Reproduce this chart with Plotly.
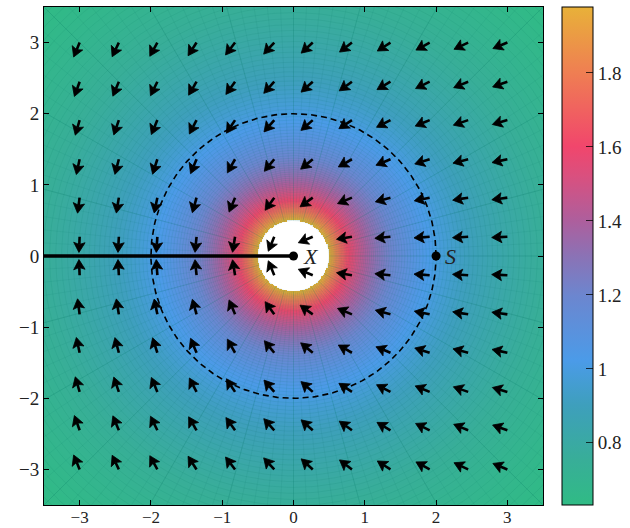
import numpy as np
import plotly.graph_objects as go

# ---- data ----
axis_ticks = [-3, -2, -1, 0, 1, 2, 3]
cbar_ticks = [0.8, 1.0, 1.2, 1.4, 1.6, 1.8]
cbar_labels = ["0.8", "1", "1.2", "1.4", "1.6", "1.8"]
cbar_min, cbar_max = 0.632, 1.978
arrow_x = [-3.0, -2.45, -1.91, -1.36, -0.82, -0.27, 0.27, 0.82, 1.36, 1.91, 2.45, 3.0]
arrow_y = [-3.0, -2.45, -1.91, -1.36, -0.82, -0.27, 0.27, 0.82, 1.36, 1.91, 2.45, 3.0]
hole_radius = 0.5
circle_radius = 2.0
point_X = (0.0, 0.0)
point_S = (2.0, 0.0)
value_at_r2 = 1.0      # colour level on the dashed circle
decay_power = 0.5      # level ~ r^-1/2

colorscale = [
    [0.00, "#30bb85"], [0.09, "#38ae98"], [0.20, "#3e9fbc"], [0.29, "#4b9be8"],
    [0.42, "#6c86cf"], [0.50, "#8b72b5"], [0.57, "#ad5f9d"], [0.66, "#d9507f"],
    [0.72, "#f1466c"], [0.87, "#ef7f52"], [1.00, "#e8b139"],
]

FONT = "Liberation Serif"

# ---- field ----
N = 401
gx = np.linspace(-3.5, 3.5, N)
gy = np.linspace(-3.5, 3.5, N)
XX, YY = np.meshgrid(gx, gy)
R = np.hypot(XX, YY)
Z = value_at_r2 * (R / circle_radius) ** (-decay_power)
Z[R < hole_radius] = np.nan

fig = go.Figure()
fig.add_trace(go.Heatmap(
    x=gx, y=gy, z=Z, zmin=cbar_min, zmax=cbar_max, colorscale=colorscale,
    hoverinfo="skip",
    colorbar=dict(
        x=1.038, xanchor="left", y=0.5, yanchor="middle", len=1.0, lenmode="fraction",
        thickness=31, xpad=0, ypad=0, outlinewidth=1, outlinecolor="black",
        tickvals=cbar_ticks, ticktext=cbar_labels,
        ticks="inside", ticklen=7, tickcolor="rgba(0,0,0,0.75)", tickwidth=1,
        tickfont=dict(family=FONT, size=19, color="#222"),
    ),
))

# ---- faint polar mesh (rings and spokes) ----
rings = np.exp(np.linspace(np.log(hole_radius), np.log(5.0), 92))
t = np.linspace(0, 2 * np.pi, 241)
mx, my = [], []
for rr in rings:
    mx += list(rr * np.cos(t)) + [None]
    my += list(rr * np.sin(t)) + [None]
fig.add_trace(go.Scatter(x=mx, y=my, mode="lines", hoverinfo="skip",
                         line=dict(color="rgba(0,110,95,0.14)", width=0.7), showlegend=False))
sx, sy = [], []
for a in np.deg2rad(np.arange(0, 360, 3)):
    sx += [hole_radius * np.cos(a), 5 * np.cos(a), None]
    sy += [hole_radius * np.sin(a), 5 * np.sin(a), None]
fig.add_trace(go.Scatter(x=sx, y=sy, mode="lines", hoverinfo="skip",
                         line=dict(color="rgba(0,110,95,0.12)", width=0.7), showlegend=False))
sx, sy = [], []
for a in np.deg2rad(np.arange(0, 360, 15)):
    sx += [hole_radius * np.cos(a), 5 * np.cos(a), None]
    sy += [hole_radius * np.sin(a), 5 * np.sin(a), None]
fig.add_trace(go.Scatter(x=sx, y=sy, mode="lines", hoverinfo="skip",
                         line=dict(color="rgba(0,120,100,0.14)", width=1.0), showlegend=False))

# ---- branch cut ----
fig.add_trace(go.Scatter(x=[-3.5, point_X[0]], y=[0, point_X[1]], mode="lines",
                         line=dict(color="black", width=3.5), hoverinfo="skip", showlegend=False))

# ---- dashed circle ----
tc = np.linspace(0, 2 * np.pi, 400)
fig.add_trace(go.Scatter(x=circle_radius * np.cos(tc), y=circle_radius * np.sin(tc), mode="lines",
                         line=dict(color="black", width=1.6, dash="6px,4px"),
                         hoverinfo="skip", showlegend=False))

# ---- arrows ----
L, H, W = 0.22, 0.14, 0.08
shx, shy, hx, hy = [], [], [], []
for yv in arrow_y:
    for xv in arrow_x:
        ang = np.pi + np.arctan2(yv, xv) / 2
        dx, dy = np.cos(ang), np.sin(ang)
        nx, ny = -dy, dx
        tipx, tipy = xv + L * dx, yv + L * dy
        bx, by = tipx - H * dx, tipy - H * dy
        notx, noty = tipx - 0.8 * H * dx, tipy - 0.8 * H * dy
        shx += [xv, notx, None]
        shy += [yv, noty, None]
        hx += [tipx, bx + W * nx, notx, bx - W * nx, tipx, None]
        hy += [tipy, by + W * ny, noty, by - W * ny, tipy, None]
fig.add_trace(go.Scatter(x=shx, y=shy, mode="lines", line=dict(color="black", width=2.6),
                         hoverinfo="skip", showlegend=False))
fig.add_trace(go.Scatter(x=hx, y=hy, mode="lines", fill="toself", fillcolor="black",
                         line=dict(color="black", width=0.8), hoverinfo="skip", showlegend=False))

# ---- points ----
fig.add_trace(go.Scatter(x=[point_X[0], point_S[0]], y=[point_X[1], point_S[1]], mode="markers",
                         marker=dict(color="black", size=9), hoverinfo="skip", showlegend=False))
fig.add_annotation(x=point_X[0] + 0.1, y=point_X[1], text="<i>X</i>", showarrow=False,
                   xanchor="left", yanchor="middle", font=dict(family=FONT, size=22, color="#222"))
fig.add_annotation(x=point_S[0] + 0.1, y=point_S[1], text="<i>S</i>", showarrow=False,
                   xanchor="left", yanchor="middle", font=dict(family=FONT, size=22, color="#222"))

# left-side colour bar tick dashes
for v in cbar_ticks:
    yp = (v - cbar_min) / (cbar_max - cbar_min)
    fig.add_shape(type="line", xref="paper", yref="paper", x0=1.038, x1=1.038 + 7 / 499,
                  y0=yp, y1=yp, line=dict(color="rgba(0,0,0,0.75)", width=1))

axis_common = dict(range=[-3.5, 3.5], tickvals=axis_ticks, ticks="inside", ticklen=5,
                   tickcolor="black", showline=True, linecolor="black", linewidth=1,
                   mirror="ticks", showgrid=False, zeroline=False,
                   tickfont=dict(family=FONT, size=19, color="#222"))
fig.update_xaxes(**axis_common)
fig.update_xaxes(tickfont=dict(family=FONT, size=17, color="#222"), ticklabelstandoff=-3)
fig.update_yaxes(**axis_common)
fig.update_layout(width=630, height=528,
                  margin=dict(l=44, r=87, t=7, b=23, autoexpand=False),
                  plot_bgcolor="white", paper_bgcolor="white", showlegend=False)

fig.write_html("out.html", config={"displayModeBar": False},
               post_script="document.body.style.margin='0';")
